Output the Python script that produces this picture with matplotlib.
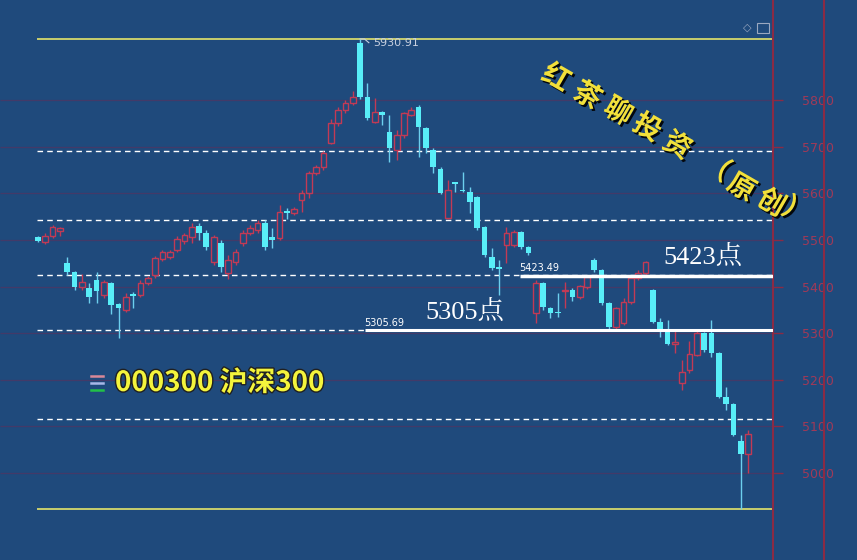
import matplotlib
matplotlib.use("Agg")
import matplotlib.pyplot as plt
import matplotlib.patheffects as pe
from matplotlib.lines import Line2D
import numpy as np

# daily candles (open, high, low, close)
opens = [5506, 5495, 5508, 5520, 5450, 5431, 5398, 5397, 5414, 5382,
         5407, 5362, 5349, 5384, 5382, 5407, 5424, 5460, 5463, 5478,
         5497, 5506, 5530, 5515, 5452, 5493, 5429, 5452, 5493, 5515,
         5521, 5536, 5506, 5504, 5562, 5558, 5585, 5600, 5643, 5656,
         5708, 5751, 5779, 5794, 5922, 5806, 5753, 5774, 5731, 5693,
         5725, 5768, 5785, 5740, 5693, 5652, 5547, 5624, 5608, 5603,
         5592, 5527, 5463, 5442, 5489, 5489, 5517, 5485, 5343, 5407,
         5354, 5345, 5390, 5392, 5377, 5399, 5457, 5435, 5364, 5313,
         5322, 5367, 5418, 5429, 5392, 5324, 5309, 5277, 5193, 5221,
         5253, 5300, 5300, 5257, 5163, 5148, 5068, 5040]
highs = [5508, 5515, 5532, 5528, 5463, 5434, 5426, 5407, 5431, 5414,
         5410, 5365, 5386, 5388, 5414, 5423, 5466, 5478, 5478, 5508,
         5514, 5536, 5536, 5521, 5510, 5500, 5467, 5480, 5521, 5532,
         5542, 5542, 5525, 5575, 5568, 5570, 5607, 5648, 5660, 5690,
         5760, 5785, 5800, 5820, 5930.91, 5836, 5804, 5776, 5768, 5736,
         5775, 5785, 5790, 5742, 5697, 5656, 5628, 5625, 5645, 5613,
         5595, 5530, 5482, 5457, 5527, 5521, 5520, 5487, 5414, 5410,
         5356, 5386, 5410, 5397, 5403, 5423, 5461, 5437, 5366, 5356,
         5375, 5422, 5435, 5455, 5395, 5332, 5328, 5306, 5242, 5283,
         5305, 5302, 5328, 5259, 5184, 5150, 5081, 5092]
lows = [5495, 5492, 5505, 5508, 5424, 5392, 5392, 5364, 5364, 5376,
        5341, 5289, 5345, 5354, 5377, 5403, 5418, 5455, 5458, 5474,
        5492, 5493, 5500, 5478, 5446, 5431, 5416, 5446, 5487, 5510,
        5515, 5478, 5482, 5500, 5545, 5553, 5560, 5590, 5640, 5650,
        5705, 5745, 5773, 5790, 5803, 5757, 5751, 5746, 5667, 5671,
        5718, 5765, 5678, 5686, 5643, 5598, 5545, 5602, 5602, 5557,
        5522, 5463, 5435, 5382, 5450, 5485, 5480, 5468, 5321, 5350,
        5332, 5334, 5354, 5369, 5373, 5395, 5431, 5360, 5309, 5309,
        5318, 5362, 5415, 5425, 5321, 5291, 5274, 5257, 5178, 5215,
        5250, 5260, 5248, 5160, 5135, 5079, 4922, 5000]
closes = [5498, 5508, 5527, 5526, 5431, 5399, 5409, 5377, 5390, 5410,
          5360, 5354, 5377, 5380, 5407, 5418, 5461, 5474, 5473, 5502,
          5510, 5527, 5515, 5485, 5506, 5442, 5457, 5474, 5515, 5525,
          5536, 5485, 5500, 5560, 5558, 5566, 5600, 5643, 5656, 5686,
          5751, 5779, 5794, 5806, 5806, 5761, 5774, 5768, 5697, 5725,
          5772, 5779, 5742, 5697, 5656, 5600, 5607, 5619, 5604, 5581,
          5525, 5467, 5439, 5437, 5515, 5517, 5485, 5472, 5407, 5356,
          5343, 5343, 5393, 5377, 5401, 5420, 5435, 5364, 5313, 5354,
          5367, 5418, 5429, 5452, 5324, 5302, 5276, 5280, 5216, 5255,
          5300, 5264, 5257, 5163, 5148, 5081, 5040, 5083]

peak = 5930.91
bottom = 4922
fib_levels = [5115, 5306, 5424, 5543, 5691]
support_hi = 5423.49
support_lo = 5305.69
y_ticks = [5000, 5100, 5200, 5300, 5400, 5500, 5600, 5700, 5800]

bg = '#1f4a7c'
red = '#c23a55'
cyan = '#58eef8'
cyan_wick = '#6ccfee'
axis_red = '#8a2b45'

W, H = 857, 560
fig = plt.figure(figsize=(W / 100, H / 100), dpi=100)
fig.patch.set_facecolor(bg)
ax = fig.add_axes([0, 0, 773 / W, 1])
ax.set_facecolor(bg)

x = np.arange(len(opens))
o = np.array(opens, dtype=float)
h = np.array(highs, dtype=float)
l = np.array(lows, dtype=float)
c = np.array(closes, dtype=float)
up = c >= o

x0, x1 = -5.19, 100.41
ax.set_xlim(x0, x1)
ax.set_ylim(4813.4, 6014.5)

# grid at ticks
ax.hlines(y_ticks, x0, x1, color='#433a68', lw=0.9, zorder=0)
# golden section lines
ax.hlines(fib_levels, -0.15, x1, color='white', lw=1, linestyles=(0, (4, 3)), zorder=1)
ax.hlines([peak, bottom], -0.15, x1, color='#e4e46a', lw=1.2, zorder=1)

# candles
ax.vlines(x[up], l[up], h[up], color=red, lw=1, zorder=2)
ax.vlines(x[~up], l[~up], h[~up], color=cyan_wick, lw=1, zorder=2)
ax.bar(x[up], np.maximum(c[up] - o[up], 3), bottom=o[up], width=0.78,
       facecolor=bg, edgecolor=red, lw=1, zorder=3)
ax.bar(x[~up], np.maximum(o[~up] - c[~up], 3), bottom=c[~up], width=0.78,
       color=cyan, lw=0, zorder=3)

# support lines
ax.hlines(support_hi, 65.8, x1, color='white', lw=2.5, zorder=4)
ax.hlines(support_lo, 44.7, x1, color='white', lw=2.2, zorder=4)
ax.text(65.7, support_hi + 6, '%.2f' % support_hi, color='white', fontsize=7, va='bottom', zorder=5)
ax.text(44.6, support_lo + 6, '%.2f' % support_lo, color='white', fontsize=7, va='bottom', zorder=5)
serif = ['Liberation Serif', 'Noto Serif CJK SC', 'Noto Sans CJK SC']
ax.text(85.4, support_hi + 14, '5423点', color='white', fontsize=19, family=serif, va='bottom', zorder=5)
ax.text(52.9, support_lo + 14, '5305点', color='white', fontsize=19, family=serif, va='bottom', zorder=5)

# peak label
pk = int(np.argmax(h))
ax.plot([pk, pk + 0.6, pk + 1.2], [peak, peak, peak - 8], color='#c8d0e0', lw=0.8, zorder=5)
ax.text(pk + 1.8, peak - 8, '%.2f' % peak, color='#c8d0e0', fontsize=8, va='center', zorder=5)

# right axis
for s in ['top', 'left', 'bottom']:
    ax.spines[s].set_visible(False)
ax.spines['right'].set_color(axis_red)
ax.spines['right'].set_linewidth(1.5)
ax.set_xticks([])
ax.yaxis.tick_right()
ax.set_yticks(y_ticks)
ax.set_yticklabels([str(t) for t in y_ticks])
ax.tick_params(axis='y', colors=axis_red, length=7, width=1, pad=14, labelsize=9,
               labelcolor='#a03a58')
fig.add_artist(Line2D([824 / W, 824 / W], [0, 1], color=axis_red, lw=1.5))

# top-right icons
fig.text(747 / W, 1 - 28 / H, '◇', color='#9aa8c0', fontsize=8, ha='center', va='center')
fig.add_artist(plt.Rectangle((757 / W, 1 - 33 / H), 12 / W, 10 / H, fill=False,
                             edgecolor='#9aa8c0', lw=0.8))

# title along a diagonal
title = '红茶聊投资（原创）'
pts = [(556, 78), (587, 96), (618, 112), (647, 128), (677, 146),
       (716, 168), (741, 188), (771, 203), (796, 212)]
for ch, (px, py) in zip(title, pts):
    fig.text(px / W, 1 - py / H, ch, color='#f2e03a', fontsize=20, weight='bold',
             family=['Noto Sans CJK SC', 'DejaVu Sans'], rotation=-30,
             ha='center', va='center',
             path_effects=[pe.withSimplePatchShadow(offset=(1.5, -1.5), shadow_rgbFace='black', alpha=0.9)])

# instrument name
for yy, col in [(376, '#d88898'), (383, '#a8b8e8'), (390, '#22c048')]:
    fig.add_artist(Line2D([91 / W, 103 / W], [1 - yy / H, 1 - yy / H], color=col, lw=1.8))
fig.text(115 / W, 1 - 383 / H, '000300 沪深300', color='#f4f43c', fontsize=20, weight='bold',
         family=['Noto Sans CJK SC', 'DejaVu Sans'], va='center',
         path_effects=[pe.withStroke(linewidth=2, foreground='#202020')])

fig.savefig('out.png', dpi=100, facecolor=bg)
